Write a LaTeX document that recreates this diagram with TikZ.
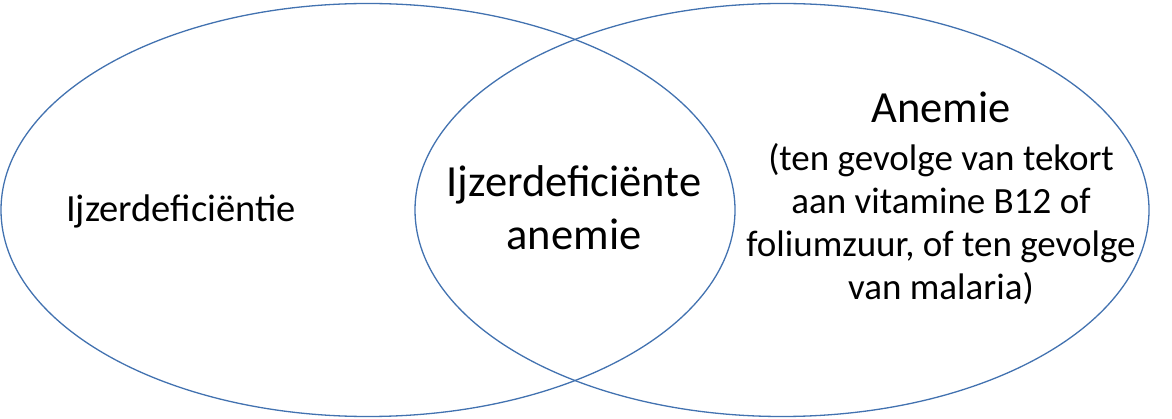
\documentclass[tikz,border=0pt]{standalone}
\usepackage{fontspec}
\setmainfont{Carlito}
\usepackage{tikz}
\usetikzlibrary{shapes.geometric}
\definecolor{setblue}{HTML}{4272B0}
\tikzset{
  setring/.style={ellipse, draw=setblue, line width=1.3pt, inner sep=0pt,
    minimum width=734pt, minimum height=413pt},
  bigtxt/.style={font=\fontsize{38.5}{46}\selectfont, inner sep=0pt, anchor=base},
  midtxt/.style={font=\fontsize{44.5}{53}\selectfont, inner sep=0pt, align=center, anchor=base},
  subtxt/.style={font=\fontsize{37}{43}\selectfont, inner sep=0pt, align=center, anchor=base}
}

\begin{document}
\begin{tikzpicture}[x=1pt,y=-1pt]

           \useasboundingbox (0,0) rectangle (1172,419);

           \node[setring] (setL) at (368,210) {};
           \node[setring] (setR) at (782,210) {};

           % multi-line nodes: base is on the last line
           \node[bigtxt] (ijzer) at (181,222) {Ijzerdeficiëntie};
           \node[midtxt] (both) at (574,250) {Ijzerdeficiënte\\anemie};
           \node[midtxt] (anemie) at (941,123) {Anemie};
           \node[subtxt] (cause) at (941,300) {(ten gevolge van tekort\\aan vitamine B12 of\\foliumzuur, of ten gevolge\\van malaria)};

\end{tikzpicture}
\end{document}
